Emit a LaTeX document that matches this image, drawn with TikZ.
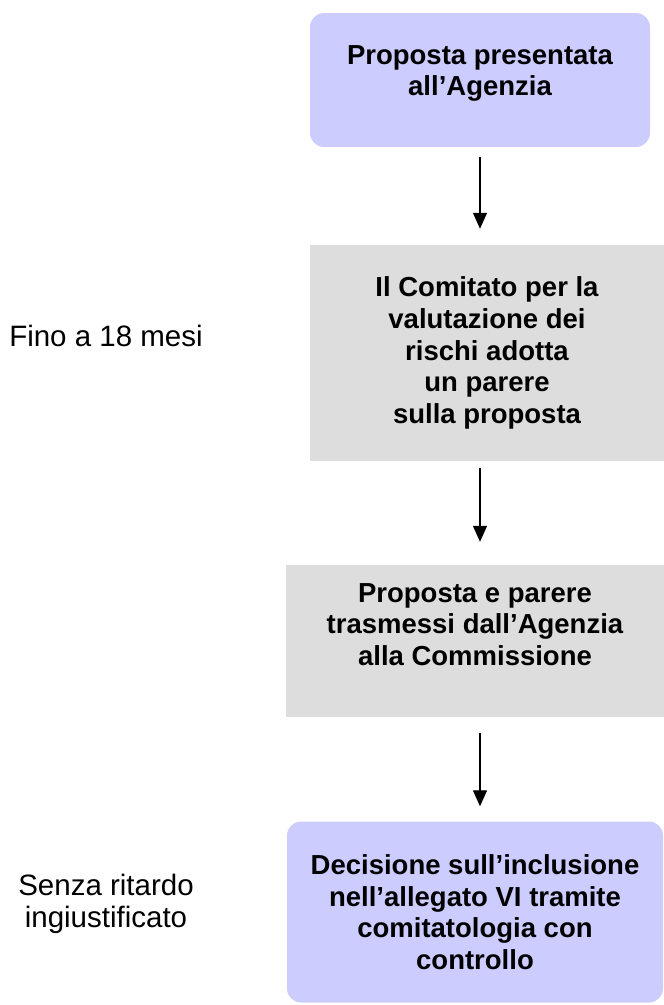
\documentclass[tikz,border=0pt]{standalone}
\usepackage{fontspec}
\setmainfont{Liberation Sans}
\usetikzlibrary{arrows.meta}
\definecolor{lilla}{HTML}{CCCCFF}
\definecolor{grigio}{HTML}{DDDDDD}
\begin{document}
\begin{tikzpicture}[x=1pt,y=-1pt,
        box/.style={inner sep=0pt, align=center, font=\fontsize{27.5}{31.6}\selectfont\bfseries},
        lilbox/.style={box, fill=lilla, rounded corners=14pt},
        grybox/.style={box, fill=grigio},
        freccia/.style={line width=1.3pt, -{Triangle[length=16pt,width=14pt]}},
        nota/.style={align=center, font=\fontsize{29.5}{31.6}\selectfont}]
        \useasboundingbox (0,0) rectangle (664,1005);
        \coordinate (asse) at (480,0);
        \node[lilbox, minimum width=340pt, minimum height=134pt] (prop) at (480,80) {Proposta presentata\\all’Agenzia\\[-22pt]\strut};
        \node[grybox, minimum width=354pt, minimum height=216pt] (comitato) at (487,353) {Il Comitato per la\\valutazione dei\\rischi adotta\\un parere\\sulla proposta};
        \node[grybox, minimum width=378pt, minimum height=152pt] (trasm) at (475,641) {Proposta e parere\\trasmessi dall’Agenzia\\alla Commissione\\[-8pt]\strut};
        \node[lilbox, minimum width=376pt, minimum height=181pt] (dec) at (475,912) {Decisione sull’inclusione\\nell’allegato VI tramite\\comitatologia con\\controllo};
        \draw[freccia, shorten <=10pt, shorten >=16pt] (prop.south -| asse) -- (comitato.north -| asse);
        \draw[freccia, shorten <=7pt, shorten >=23pt] (comitato.south -| asse) -- (trasm.north -| asse);
        \draw[freccia, shorten <=16pt, shorten >=15pt] (trasm.south -| asse) -- (dec.north -| asse);
        % tempi
        \node[nota] (tempo1) at (106,336) {Fino a 18 mesi};
        \node[nota] (tempo2) at (106,904) {Senza ritardo\\ingiustificato};
\end{tikzpicture}
\end{document}
